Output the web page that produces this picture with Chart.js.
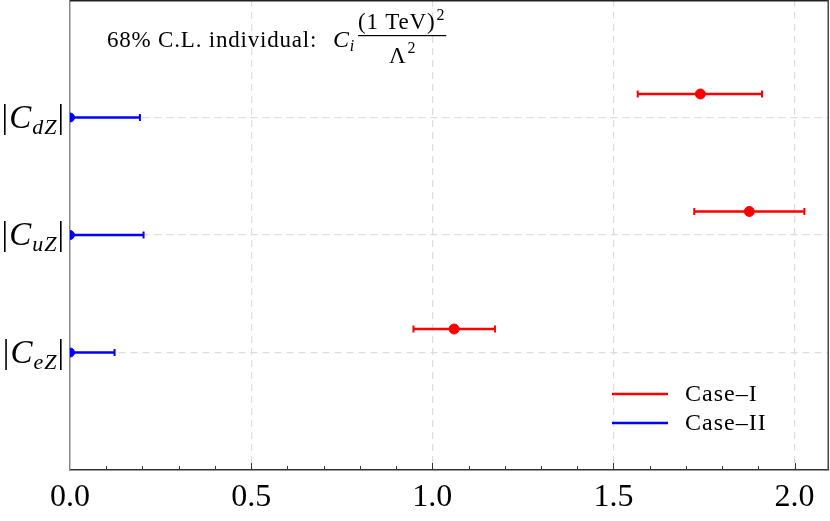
<!DOCTYPE html>
<html>
<head>
<meta charset="utf-8">
<script src="https://cdn.jsdelivr.net/npm/chart.js@4.4.1/dist/chart.umd.min.js"></script>
<style>
  html, body { margin: 0; padding: 0; background: #fff; }
  #wrap { width: 830px; height: 521px; position: relative; }
</style>
</head>
<body>
<div id="wrap"><canvas id="myChart"></canvas></div>
<script>
// coefficients, top to bottom
const categories = ['dZ', 'uZ', 'eZ'];
const catPos = [3, 2, 1];

// Case-I (red): best fit and 68% interval
const case1Center = [1.74, 1.875, 1.06];
const case1Low = [1.567, 1.723, 0.948];
const case1High = [1.91, 2.027, 1.173];

// Case-II (blue)
const case2Center = [0, 0, 0];
const case2Low = [0, 0, 0];
const case2High = [0.193, 0.203, 0.123];

const xTicks = [0.0, 0.5, 1.0, 1.5, 2.0];
const seriesNames = ['Case\u2013I', 'Case\u2013II'];

const RED = '#ff0000';
const BLUE = '#0000ff';
const SERIF = '"Liberation Serif", "DejaVu Serif", serif';
const redShift = 0.2; // red points sit a bit above the category line

function errorBars(lo, hi, color, shift) {
  return lo.map((l, i) => ({
    data: [{ x: l, y: catPos[i] + shift }, { x: hi[i], y: catPos[i] + shift }],
    showLine: true,
    borderColor: color,
    borderWidth: 2.5,
    pointStyle: 'line',
    rotation: 90,
    pointRadius: 3.5,
    pointBorderWidth: 2,
    pointBorderColor: color,
    clip: 0
  }));
}

const datasets = [
  {
    label: seriesNames[0],
    data: case1Center.map((v, i) => ({ x: v, y: catPos[i] + redShift })),
    backgroundColor: RED, borderColor: RED, pointRadius: 5, clip: 0
  },
  {
    label: seriesNames[1],
    data: case2Center.map((v, i) => ({ x: v, y: catPos[i] })),
    backgroundColor: BLUE, borderColor: BLUE, pointRadius: 4.5, clip: 0
  }
].concat(errorBars(case1Low, case1High, RED, redShift), errorBars(case2Low, case2High, BLUE, 0));

// draws frame, minor ticks, y labels, note and legend
const decorPlugin = {
  id: 'decor',
  afterDraw(chart) {
    const ctx = chart.ctx;
    const a = chart.chartArea;
    const xs = chart.scales.x, ys = chart.scales.y;
    ctx.save();

    // ticks on bottom axis, pointing inwards
    ctx.strokeStyle = '#333';
    ctx.lineWidth = 1;
    for (let k = 1; k <= 20; k++) {
      const v = k / 10;
      const px = Math.round(xs.getPixelForValue(v)) + 0.5;
      const len = (k % 5 === 0) ? 7 : 4;
      ctx.beginPath();
      ctx.moveTo(px, a.bottom);
      ctx.lineTo(px, a.bottom - len);
      ctx.stroke();
    }

    // top and right frame
    ctx.lineWidth = 1.5;
    ctx.strokeStyle = '#222';
    ctx.beginPath();
    ctx.moveTo(a.left, a.top + 0.75);
    ctx.lineTo(a.right, a.top + 0.75);
    ctx.stroke();
    ctx.strokeStyle = '#444';
    ctx.beginPath();
    ctx.moveTo(a.right - 0.75, a.top);
    ctx.lineTo(a.right - 0.75, a.bottom);
    ctx.stroke();

    // y labels |C_xZ|
    ctx.fillStyle = '#000';
    ctx.textBaseline = 'alphabetic';
    ctx.letterSpacing = '1px';
    categories.forEach((c, i) => {
      const y = ys.getPixelForValue(catPos[i]) + 10;
      const big = '33px ' + SERIF;
      const bigIt = 'italic 33px ' + SERIF;
      const sub = 'italic 22px ' + SERIF;
      const parts = [
        { t: '|', f: big, dy: 0 },
        { t: 'C', f: bigIt, dy: 0 },
        { t: c, f: sub, dy: 6 },
        { t: '|', f: big, dy: 0 }
      ];
      let w = 0;
      parts.forEach(p => { ctx.font = p.f; p.w = ctx.measureText(p.t).width; w += p.w; });
      let x = a.left - 5 - w;
      ctx.textAlign = 'left';
      parts.forEach(p => { ctx.font = p.f; ctx.fillText(p.t, x, y + p.dy); x += p.w; });
    });

    // note: 68% C.L. individual: C_i (1 TeV)^2 / Lambda^2
    ctx.letterSpacing = '0.8px';
    let x = 107, base = 47;
    ctx.font = '23px ' + SERIF;
    ctx.fillText('68% C.L. individual:', x, base);
    x = 333;
    ctx.font = 'italic 24px ' + SERIF;
    ctx.fillText('C', x, base);
    x += ctx.measureText('C').width;
    ctx.font = 'italic 16px ' + SERIF;
    ctx.fillText('i', x, base + 4);
    x += ctx.measureText('i').width + 3;
    const fracL = x;
    ctx.font = '23px ' + SERIF;
    const num = '(1 TeV)';
    const numW = ctx.measureText(num).width;
    ctx.font = '16px ' + SERIF;
    const supW = ctx.measureText('2').width;
    const fracW = numW + supW + 2;
    ctx.font = '23px ' + SERIF;
    ctx.fillText(num, fracL, 29);
    ctx.font = '16px ' + SERIF;
    ctx.fillText('2', fracL + numW + 1, 20);
    ctx.fillRect(fracL, 35, fracW, 1.2);
    ctx.font = '23px ' + SERIF;
    const lw = ctx.measureText('\u039B').width;
    const dx = fracL + (fracW - lw - supW) / 2;
    ctx.fillText('\u039B', dx, 63);
    ctx.font = '16px ' + SERIF;
    ctx.fillText('2', dx + lw + 1, 53);

    // legend
    ctx.letterSpacing = '1px';
    const items = [[seriesNames[0], RED, 394], [seriesNames[1], BLUE, 423]];
    items.forEach(it => {
      ctx.strokeStyle = it[1];
      ctx.lineWidth = 2.5;
      ctx.beginPath();
      ctx.moveTo(612, it[2]);
      ctx.lineTo(668, it[2]);
      ctx.stroke();
      ctx.fillStyle = '#000';
      ctx.font = '24px ' + SERIF;
      ctx.textBaseline = 'middle';
      ctx.fillText(it[0], 685, it[2] + 1);
    });
    ctx.restore();
  }
};

new Chart(document.getElementById('myChart'), {
  type: 'scatter',
  data: { datasets: datasets },
  options: {
    responsive: true,
    maintainAspectRatio: false,
    animation: false,
    layout: { autoPadding: false, padding: { top: 0, right: 1, left: 0, bottom: 0 } },
    plugins: { legend: { display: false }, tooltip: { enabled: false } },
    scales: {
      x: {
        type: 'linear',
        min: 0,
        max: 2.095,
        afterBuildTicks: s => { s.ticks = xTicks.map(v => ({ value: v })); },
        afterFit: s => { s.height = 51; },
        ticks: {
          color: '#000',
          font: { family: SERIF, size: 32 },
          padding: 8,
          callback: v => Number(v).toFixed(1)
        },
        grid: {
          drawTicks: false,
          color: c => (c.tick && c.tick.value === 0) ? 'rgba(0,0,0,0)' : '#dddddd',
          lineWidth: 1.2
        },
        border: { color: '#333', width: 1.5, dash: [7, 5] }
      },
      y: {
        type: 'linear',
        min: 0,
        max: 4,
        afterBuildTicks: s => { s.ticks = catPos.map(v => ({ value: v })); },
        afterFit: s => { s.width = 70; },
        ticks: { display: false },
        grid: { drawTicks: false, color: '#dddddd', lineWidth: 1.2 },
        border: { color: '#888', width: 1.5, dash: [7, 5] }
      }
    }
  },
  plugins: [decorPlugin]
});
</script>
</body>
</html>
